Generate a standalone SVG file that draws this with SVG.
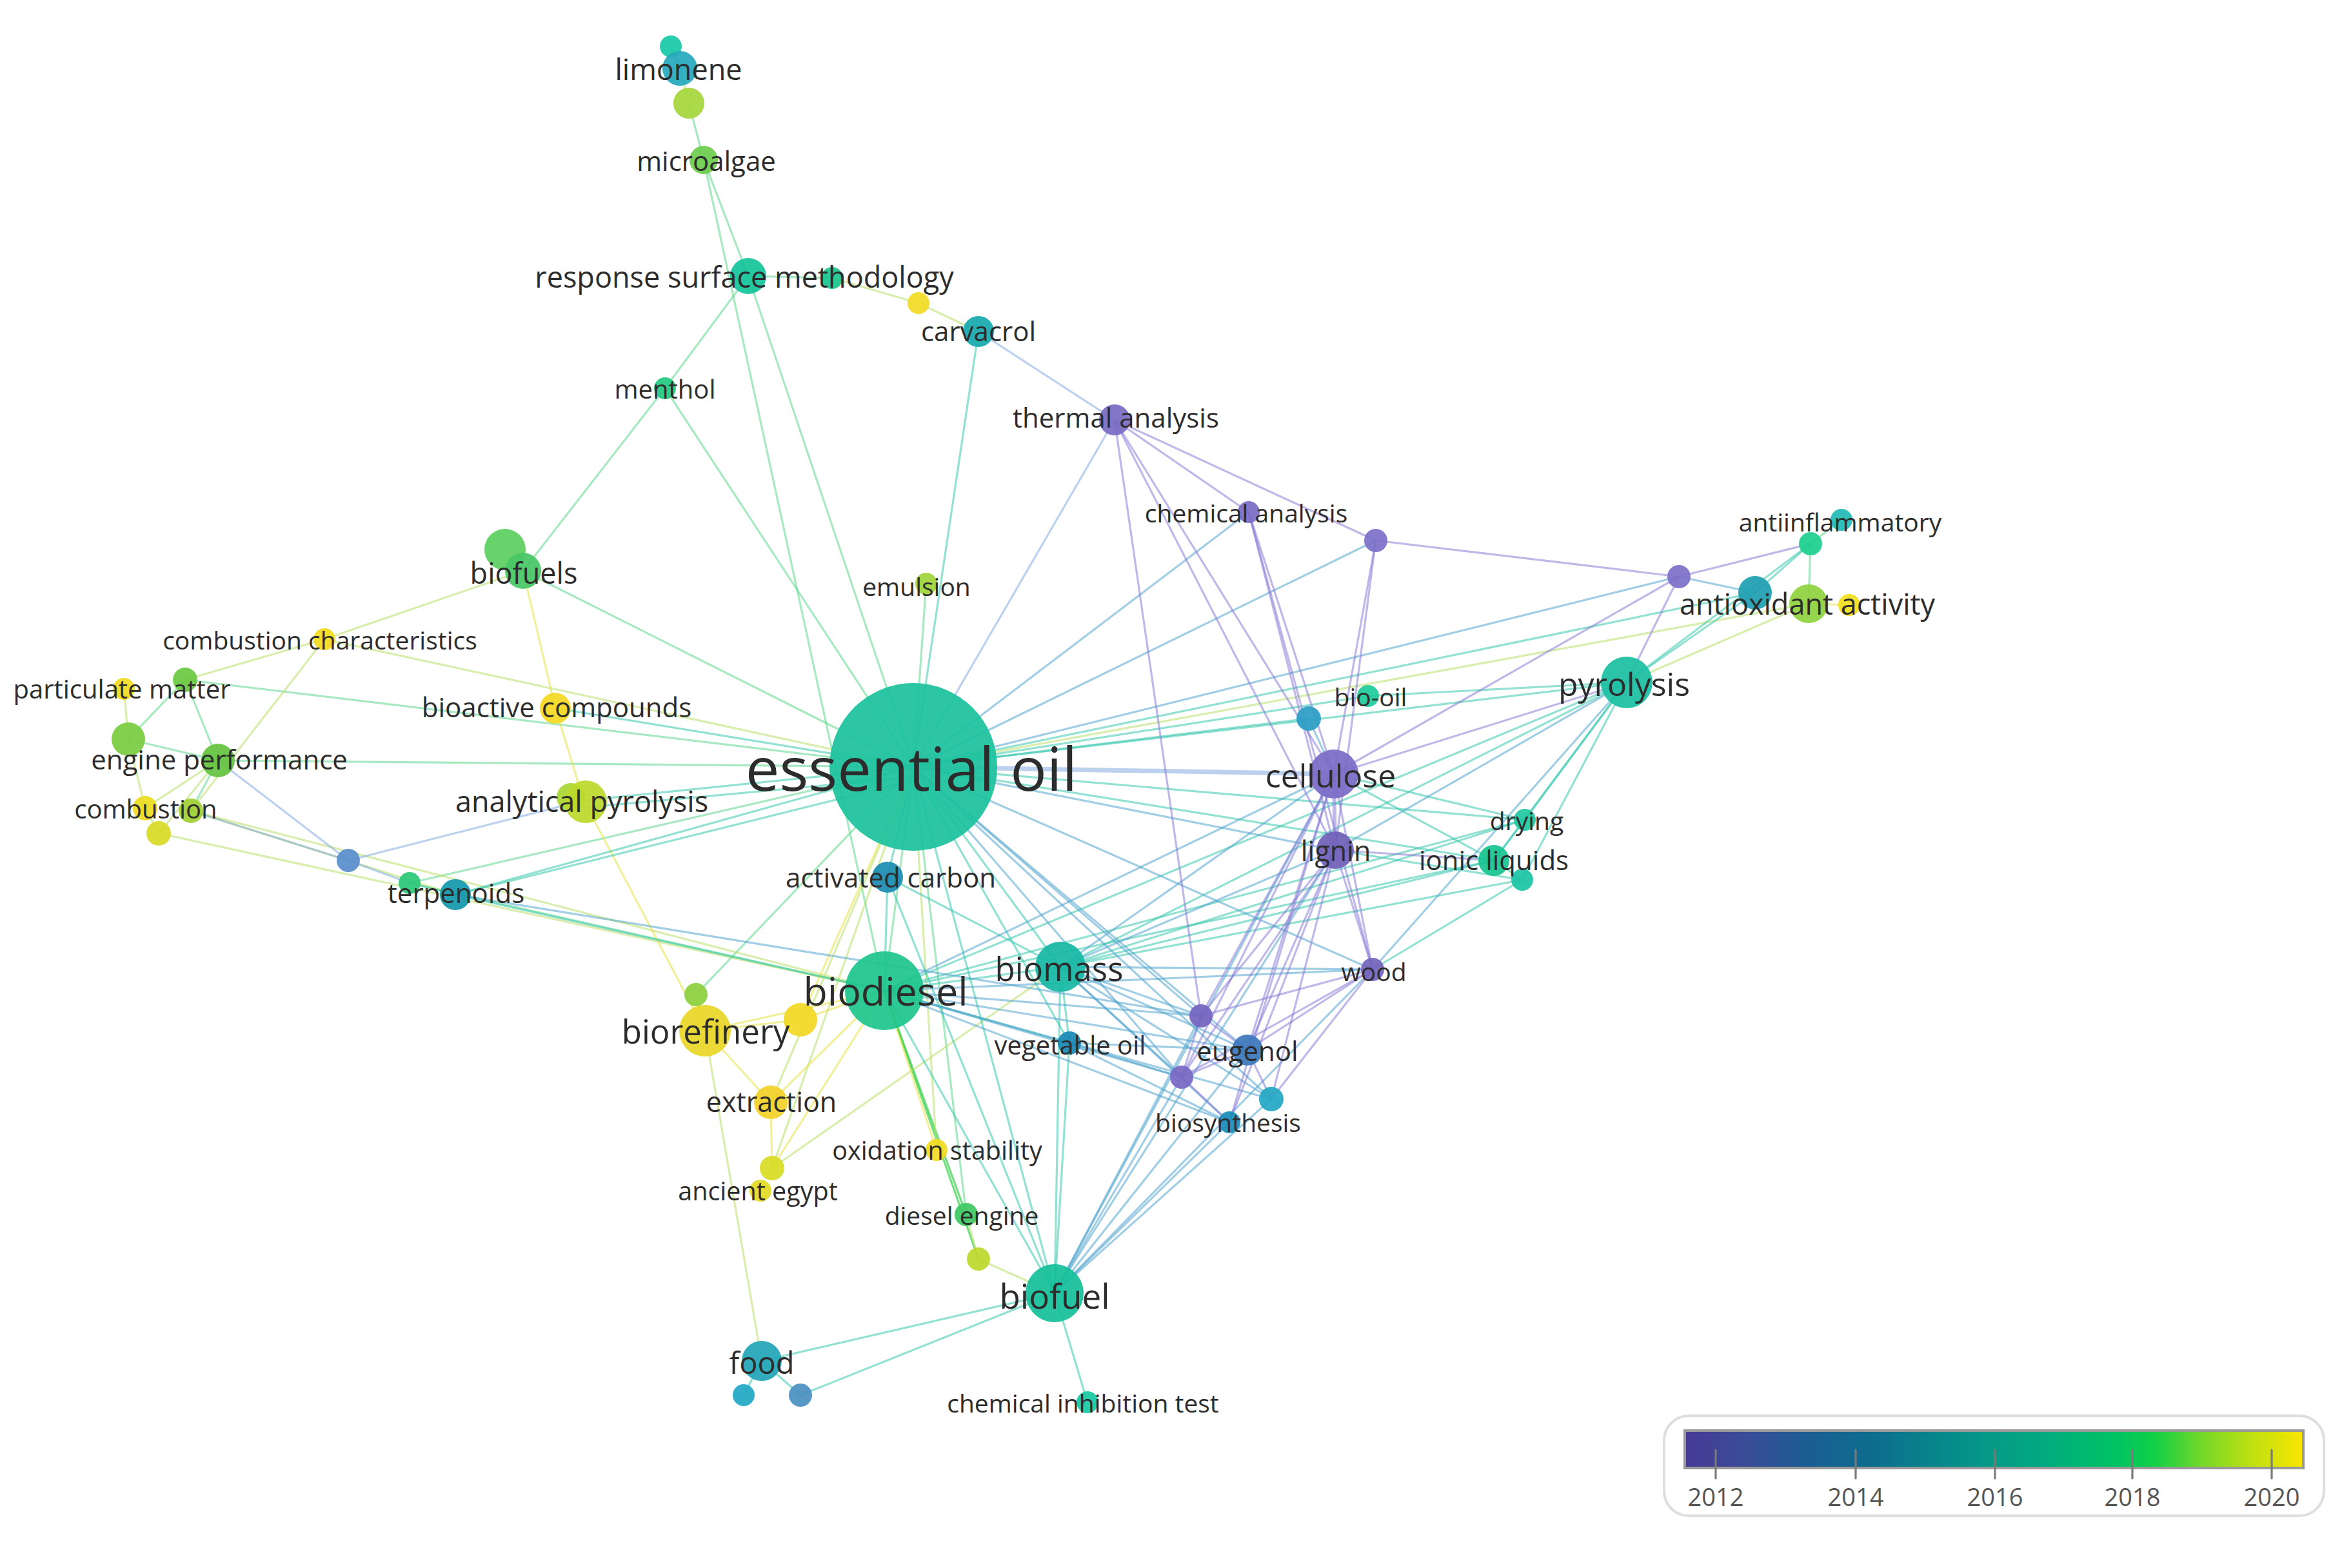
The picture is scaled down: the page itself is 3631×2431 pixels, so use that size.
<svg xmlns="http://www.w3.org/2000/svg" width="3631" height="2431" viewBox="0 0 3631 2431">
<defs>
<linearGradient id="vir" x1="0" y1="0" x2="1" y2="0">
<stop offset="0" stop-color="#473a95"/>
<stop offset="0.1" stop-color="#3a4c98"/>
<stop offset="0.2" stop-color="#1b5e92"/>
<stop offset="0.3" stop-color="#0d6c8e"/>
<stop offset="0.45" stop-color="#06918a"/>
<stop offset="0.58" stop-color="#02aa80"/>
<stop offset="0.7" stop-color="#00c462"/>
<stop offset="0.76" stop-color="#12d046"/>
<stop offset="0.84" stop-color="#78d828"/>
<stop offset="0.92" stop-color="#c2e010"/>
<stop offset="1" stop-color="#fae600"/>
</linearGradient>
</defs>
<style>
line{stroke-width:3.2;stroke-opacity:0.52;stroke-linecap:round}
.p{stroke:#8577d2}
.b{stroke:#4aa2cc}
.t{stroke:#30c6aa}
.g{stroke:#58d48a}
.yg{stroke:#b6de62}
.y{stroke:#e6e040}
.lb{stroke:#7ea6dc}
.bg{stroke:#36d04a;stroke-opacity:0.7}
circle{fill-opacity:0.93}
text{font-family:"Open Sans","DejaVu Sans",sans-serif;fill:#2c2c2c;text-anchor:middle;dominant-baseline:central}
.leg{fill:#555;font-size:38px}
</style>
<rect width="3631" height="2431" fill="#fff"/>
<g id="connectors">
<line class="g" x1="1068" y1="160" x2="1091" y2="248"/>
<line class="g" x1="1091" y1="248" x2="1160" y2="428"/>
<line class="g" x1="1091" y1="248" x2="1371" y2="1536"/>
<line class="g" x1="1160" y1="428" x2="1290" y2="431"/>
<line class="g" x1="1160" y1="428" x2="1031" y2="602"/>
<line class="g" x1="1031" y1="602" x2="811" y2="885"/>
<line class="g" x1="1031" y1="602" x2="1416" y2="1189"/>
<line class="g" x1="1160" y1="428" x2="1416" y2="1189"/>
<line class="g" x1="1436" y1="905" x2="1416" y2="1189"/>
<line class="g" x1="811" y1="885" x2="1416" y2="1189"/>
<line class="g" x1="287" y1="1054" x2="1416" y2="1189"/>
<line class="g" x1="338" y1="1179" x2="1416" y2="1189"/>
<line class="g" x1="287" y1="1054" x2="199" y2="1146"/>
<line class="g" x1="287" y1="1054" x2="338" y2="1179"/>
<line class="g" x1="199" y1="1146" x2="338" y2="1179"/>
<line class="g" x1="338" y1="1179" x2="296" y2="1257"/>
<line class="g" x1="635" y1="1369" x2="1416" y2="1189"/>
<line class="g" x1="635" y1="1369" x2="1371" y2="1536"/>
<line class="g" x1="1079" y1="1542" x2="1416" y2="1189"/>
<line class="bg" x1="1498" y1="1883" x2="1371" y2="1536"/>
<line class="bg" x1="1371" y1="1536" x2="1517" y2="1952"/>
<line class="g" x1="1498" y1="1883" x2="1416" y2="1189"/>
<line class="g" x1="2807" y1="843" x2="2855" y2="806"/>
<line class="g" x1="2807" y1="843" x2="2804" y2="936"/>
<line class="g" x1="1371" y1="1536" x2="1416" y2="1189"/>
<line class="yg" x1="1054" y1="106" x2="1068" y2="160"/>
<line class="yg" x1="1290" y1="431" x2="1424" y2="470"/>
<line class="yg" x1="1424" y1="470" x2="1517" y2="514"/>
<line class="yg" x1="811" y1="885" x2="503" y2="991"/>
<line class="yg" x1="503" y1="991" x2="1416" y2="1189"/>
<line class="yg" x1="503" y1="991" x2="287" y2="1054"/>
<line class="yg" x1="503" y1="991" x2="296" y2="1257"/>
<line class="yg" x1="192" y1="1068" x2="199" y2="1146"/>
<line class="yg" x1="199" y1="1146" x2="225" y2="1253"/>
<line class="yg" x1="338" y1="1179" x2="225" y2="1253"/>
<line class="yg" x1="338" y1="1179" x2="246" y2="1292"/>
<line class="yg" x1="225" y1="1253" x2="246" y2="1292"/>
<line class="yg" x1="296" y1="1257" x2="706" y2="1387"/>
<line class="yg" x1="246" y1="1292" x2="1371" y2="1536"/>
<line class="yg" x1="296" y1="1257" x2="1371" y2="1536"/>
<line class="yg" x1="2804" y1="936" x2="1416" y2="1189"/>
<line class="yg" x1="2804" y1="936" x2="2522" y2="1058"/>
<line class="yg" x1="1197" y1="1811" x2="1644" y2="1499"/>
<line class="yg" x1="1197" y1="1811" x2="1416" y2="1189"/>
<line class="yg" x1="1195" y1="1709" x2="1416" y2="1189"/>
<line class="yg" x1="1452" y1="1783" x2="1416" y2="1189"/>
<line class="yg" x1="1093" y1="1598" x2="1181" y2="2110"/>
<line class="yg" x1="1079" y1="1542" x2="1093" y2="1598"/>
<line class="yg" x1="1517" y1="1952" x2="1635" y2="2005"/>
<line class="yg" x1="1498" y1="1883" x2="1517" y2="1952"/>
<line class="y" x1="811" y1="885" x2="861" y2="1098"/>
<line class="y" x1="861" y1="1098" x2="905" y2="1241"/>
<line class="y" x1="905" y1="1241" x2="1093" y2="1598"/>
<line class="y" x1="1093" y1="1598" x2="1241" y2="1581"/>
<line class="y" x1="1241" y1="1581" x2="1371" y2="1536"/>
<line class="y" x1="1093" y1="1598" x2="1195" y2="1709"/>
<line class="y" x1="1195" y1="1709" x2="1197" y2="1811"/>
<line class="y" x1="1195" y1="1709" x2="1371" y2="1536"/>
<line class="y" x1="1197" y1="1811" x2="1371" y2="1536"/>
<line class="y" x1="1241" y1="1581" x2="1416" y2="1189"/>
<line class="y" x1="1452" y1="1783" x2="1371" y2="1536"/>
<line class="y" x1="1093" y1="1598" x2="1371" y2="1536"/>
<line class="y" x1="2867" y1="938" x2="2804" y2="936"/>
<line class="t" x1="861" y1="1098" x2="1416" y2="1189"/>
<line class="t" x1="905" y1="1241" x2="1416" y2="1189"/>
<line class="t" x1="905" y1="1252" x2="1416" y2="1205"/>
<line class="t" x1="706" y1="1387" x2="1416" y2="1189"/>
<line class="t" x1="706" y1="1387" x2="1416" y2="1210"/>
<line class="t" x1="706" y1="1387" x2="635" y2="1369"/>
<line class="t" x1="1517" y1="514" x2="1416" y2="1189"/>
<line class="t" x1="2721" y1="919" x2="1416" y2="1189"/>
<line class="t" x1="2522" y1="1058" x2="1416" y2="1189"/>
<line class="t" x1="2121" y1="1079" x2="1416" y2="1189"/>
<line class="t" x1="2029" y1="1114" x2="1416" y2="1189"/>
<line class="t" x1="2364" y1="1271" x2="1416" y2="1189"/>
<line class="t" x1="2316" y1="1334" x2="1416" y2="1189"/>
<line class="t" x1="1644" y1="1499" x2="1416" y2="1189"/>
<line class="t" x1="1376" y1="1360" x2="1416" y2="1189"/>
<line class="t" x1="1658" y1="1617" x2="1416" y2="1189"/>
<line class="t" x1="1635" y1="2005" x2="1416" y2="1189"/>
<line class="t" x1="1371" y1="1536" x2="1644" y2="1499"/>
<line class="t" x1="1371" y1="1536" x2="1658" y2="1617"/>
<line class="t" x1="1371" y1="1536" x2="1635" y2="2005"/>
<line class="t" x1="1371" y1="1536" x2="2522" y2="1058"/>
<line class="t" x1="1371" y1="1536" x2="2316" y2="1334"/>
<line class="t" x1="1371" y1="1536" x2="2364" y2="1271"/>
<line class="t" x1="1371" y1="1536" x2="1376" y2="1360"/>
<line class="t" x1="1371" y1="1536" x2="706" y2="1387"/>
<line class="t" x1="1644" y1="1499" x2="1658" y2="1617"/>
<line class="t" x1="1644" y1="1499" x2="1635" y2="2005"/>
<line class="t" x1="1644" y1="1499" x2="2316" y2="1334"/>
<line class="t" x1="1644" y1="1499" x2="2360" y2="1364"/>
<line class="t" x1="1644" y1="1499" x2="2364" y2="1271"/>
<line class="t" x1="1644" y1="1499" x2="2522" y2="1058"/>
<line class="t" x1="1644" y1="1499" x2="1376" y2="1360"/>
<line class="t" x1="1635" y1="2005" x2="1658" y2="1617"/>
<line class="t" x1="1635" y1="2005" x2="1686" y2="2174"/>
<line class="t" x1="1635" y1="2005" x2="1181" y2="2110"/>
<line class="t" x1="1635" y1="2005" x2="1241" y2="2163"/>
<line class="t" x1="1635" y1="2005" x2="1376" y2="1360"/>
<line class="t" x1="2522" y1="1058" x2="2121" y2="1079"/>
<line class="t" x1="2522" y1="1058" x2="2364" y2="1271"/>
<line class="t" x1="2522" y1="1058" x2="2316" y2="1334"/>
<line class="t" x1="2522" y1="1058" x2="2360" y2="1364"/>
<line class="t" x1="2522" y1="1058" x2="2721" y2="919"/>
<line class="t" x1="2522" y1="1058" x2="2807" y2="843"/>
<line class="t" x1="2721" y1="919" x2="2807" y2="843"/>
<line class="t" x1="2068" y1="1200" x2="2364" y2="1271"/>
<line class="t" x1="2068" y1="1200" x2="2316" y2="1334"/>
<line class="t" x1="2316" y1="1334" x2="2360" y2="1364"/>
<line class="t" x1="2364" y1="1271" x2="2316" y2="1334"/>
<line class="t" x1="2128" y1="1503" x2="2360" y2="1364"/>
<line class="t" x1="2070" y1="1318" x2="2360" y2="1364"/>
<line class="t" x1="1181" y1="2110" x2="1153" y2="2163"/>
<line class="t" x1="1181" y1="2110" x2="1241" y2="2163"/>
<line class="t" x1="1040" y1="72" x2="1054" y2="106"/>
<line class="b" x1="2070" y1="1318" x2="1416" y2="1189"/>
<line class="b" x1="2128" y1="1503" x2="1416" y2="1189"/>
<line class="b" x1="1862" y1="1575" x2="1416" y2="1189"/>
<line class="b" x1="1934" y1="1628" x2="1416" y2="1189"/>
<line class="b" x1="1832" y1="1670" x2="1416" y2="1189"/>
<line class="b" x1="1971" y1="1704" x2="1416" y2="1189"/>
<line class="b" x1="1371" y1="1536" x2="2068" y2="1200"/>
<line class="b" x1="1371" y1="1536" x2="2128" y2="1503"/>
<line class="b" x1="1371" y1="1536" x2="1862" y2="1575"/>
<line class="b" x1="1371" y1="1536" x2="1934" y2="1628"/>
<line class="b" x1="1371" y1="1536" x2="1832" y2="1670"/>
<line class="b" x1="1371" y1="1536" x2="1906" y2="1740"/>
<line class="b" x1="1371" y1="1536" x2="1971" y2="1704"/>
<line class="b" x1="1644" y1="1499" x2="2068" y2="1200"/>
<line class="b" x1="1644" y1="1499" x2="2070" y2="1318"/>
<line class="b" x1="1644" y1="1499" x2="2128" y2="1503"/>
<line class="b" x1="1644" y1="1499" x2="1862" y2="1575"/>
<line class="b" x1="1644" y1="1499" x2="1934" y2="1628"/>
<line class="b" x1="1644" y1="1499" x2="1832" y2="1670"/>
<line class="b" x1="1644" y1="1499" x2="1906" y2="1740"/>
<line class="b" x1="1644" y1="1499" x2="1971" y2="1704"/>
<line class="b" x1="1635" y1="2005" x2="2068" y2="1200"/>
<line class="b" x1="1635" y1="2005" x2="2070" y2="1318"/>
<line class="b" x1="1635" y1="2005" x2="1934" y2="1628"/>
<line class="b" x1="1635" y1="2005" x2="1832" y2="1670"/>
<line class="b" x1="1635" y1="2005" x2="1862" y2="1575"/>
<line class="b" x1="1635" y1="2005" x2="2128" y2="1503"/>
<line class="b" x1="1635" y1="2005" x2="1906" y2="1740"/>
<line class="b" x1="1635" y1="2005" x2="1971" y2="1704"/>
<line class="b" x1="706" y1="1387" x2="1862" y2="1575"/>
<line class="b" x1="1658" y1="1617" x2="1934" y2="1628"/>
<line class="b" x1="1658" y1="1617" x2="1832" y2="1670"/>
<line class="b" x1="1658" y1="1617" x2="1906" y2="1740"/>
<line class="b" x1="1936" y1="794" x2="1416" y2="1189"/>
<line class="b" x1="2133" y1="838" x2="1416" y2="1189"/>
<line class="b" x1="2603" y1="894" x2="1416" y2="1189"/>
<line class="b" x1="2029" y1="1114" x2="2068" y2="1200"/>
<line class="b" x1="2721" y1="919" x2="2603" y2="894"/>
<line class="b" x1="2128" y1="1503" x2="2522" y2="1058"/>
<line class="b" x1="2070" y1="1318" x2="2522" y2="1058"/>
<line class="lb" x1="540" y1="1334" x2="905" y2="1241"/>
<line class="lb" x1="540" y1="1334" x2="635" y2="1369"/>
<line class="lb" x1="338" y1="1179" x2="540" y2="1334"/>
<line class="lb" x1="296" y1="1257" x2="540" y2="1334"/>
<line class="lb" x1="1517" y1="514" x2="1728" y2="651"/>
<line class="lb" x1="1728" y1="651" x2="1416" y2="1189"/>
<line class="lb" x1="1416" y1="1189" x2="2068" y2="1200" style="stroke-width:7"/>
<line class="p" x1="1728" y1="651" x2="1936" y2="794"/>
<line class="p" x1="1728" y1="651" x2="2133" y2="838"/>
<line class="p" x1="1728" y1="651" x2="2068" y2="1200"/>
<line class="p" x1="1728" y1="651" x2="2070" y2="1318"/>
<line class="p" x1="1728" y1="651" x2="1862" y2="1575"/>
<line class="p" x1="1936" y1="794" x2="2068" y2="1200"/>
<line class="p" x1="1936" y1="794" x2="2070" y2="1318"/>
<line class="p" x1="1936" y1="794" x2="2128" y2="1503"/>
<line class="p" x1="2133" y1="838" x2="2603" y2="894"/>
<line class="p" x1="2133" y1="838" x2="2068" y2="1200"/>
<line class="p" x1="2133" y1="838" x2="2070" y2="1318"/>
<line class="p" x1="2603" y1="894" x2="2068" y2="1200"/>
<line class="p" x1="2603" y1="894" x2="2522" y2="1058"/>
<line class="p" x1="2603" y1="894" x2="2807" y2="843"/>
<line class="p" x1="2068" y1="1200" x2="2070" y2="1318" style="stroke-width:6"/>
<line class="p" x1="2068" y1="1200" x2="2128" y2="1503"/>
<line class="p" x1="2068" y1="1200" x2="1862" y2="1575"/>
<line class="p" x1="2068" y1="1200" x2="1832" y2="1670"/>
<line class="p" x1="2068" y1="1200" x2="1934" y2="1628"/>
<line class="p" x1="2068" y1="1200" x2="1906" y2="1740"/>
<line class="p" x1="2068" y1="1200" x2="2522" y2="1058"/>
<line class="p" x1="2070" y1="1318" x2="2128" y2="1503"/>
<line class="p" x1="2070" y1="1318" x2="1862" y2="1575"/>
<line class="p" x1="2070" y1="1318" x2="1832" y2="1670"/>
<line class="p" x1="2070" y1="1318" x2="1934" y2="1628"/>
<line class="p" x1="2070" y1="1318" x2="1906" y2="1740"/>
<line class="p" x1="2070" y1="1318" x2="1971" y2="1704"/>
<line class="p" x1="2070" y1="1318" x2="2316" y2="1334"/>
<line class="p" x1="2128" y1="1503" x2="1862" y2="1575"/>
<line class="p" x1="2128" y1="1503" x2="1934" y2="1628"/>
<line class="p" x1="2128" y1="1503" x2="1832" y2="1670"/>
<line class="p" x1="2128" y1="1503" x2="1971" y2="1704"/>
<line class="p" x1="1862" y1="1575" x2="1934" y2="1628"/>
<line class="p" x1="1862" y1="1575" x2="1832" y2="1670"/>
<line class="p" x1="1832" y1="1670" x2="1934" y2="1628"/>
<line class="p" x1="1832" y1="1670" x2="1906" y2="1740"/>
<line class="p" x1="1934" y1="1628" x2="1971" y2="1704"/>
</g>
<g id="nodes">
<g id="n-limonene-a"><circle cx="1040" cy="72" r="17" fill="#19c9a8"/></g>
<g id="n-limonene"><circle cx="1054" cy="106" r="27" fill="#26a9bc"/></g>
<g id="n-limonene-b"><circle cx="1068" cy="160" r="24" fill="#a5d63c"/></g>
<g id="n-microalgae"><circle cx="1091" cy="248" r="22" fill="#6dcc4c"/></g>
<g id="n-rsm"><circle cx="1160" cy="428" r="28" fill="#16c49a"/></g>
<g id="n-rsm-b"><circle cx="1290" cy="431" r="17" fill="#1bc58e"/></g>
<g id="n-y7"><circle cx="1424" cy="470" r="17" fill="#f2dc26"/></g>
<g id="n-carvacrol"><circle cx="1517" cy="514" r="24" fill="#18a9ad"/></g>
<g id="n-menthol"><circle cx="1031" cy="602" r="17" fill="#25c882"/></g>
<g id="n-thermal"><circle cx="1728" cy="651" r="24" fill="#7a6cc2"/></g>
<g id="n-chemical"><circle cx="1936" cy="794" r="17" fill="#7b6cc4"/></g>
<g id="n-p921"><circle cx="2133" cy="838" r="18" fill="#7d70c8"/></g>
<g id="n-p1124"><circle cx="2603" cy="894" r="18" fill="#7d70c8"/></g>
<g id="n-antiinfl-a"><circle cx="2855" cy="806" r="17" fill="#22bab6"/></g>
<g id="n-antiinfl-b"><circle cx="2807" cy="843" r="18" fill="#1dd08e"/></g>
<g id="n-antiox-a"><circle cx="2721" cy="919" r="26" fill="#1e9fb2"/></g>
<g id="n-antiox"><circle cx="2804" cy="936" r="30" fill="#8ed23e"/></g>
<g id="n-antiox-c"><circle cx="2867" cy="938" r="17" fill="#f2e020"/></g>
<g id="n-pyrolysis"><circle cx="2522" cy="1058" r="40" fill="#1cbfa2"/></g>
<g id="n-biofuels-a"><circle cx="783" cy="852" r="32" fill="#5ed060"/></g>
<g id="n-biofuels"><circle cx="811" cy="885" r="28" fill="#48c766"/></g>
<g id="n-emulsion"><circle cx="1436" cy="905" r="17" fill="#9ed43a"/></g>
<g id="n-combchar"><circle cx="503" cy="991" r="17" fill="#f2dc20"/></g>
<g id="n-pm-a"><circle cx="192" cy="1068" r="17" fill="#f0dc22"/></g>
<g id="n-pm"><circle cx="287" cy="1054" r="19" fill="#6cc842"/></g>
<g id="n-bioactive"><circle cx="861" cy="1098" r="24" fill="#f4d822"/></g>
<g id="n-ep-a"><circle cx="199" cy="1146" r="26" fill="#7acc42"/></g>
<g id="n-ep"><circle cx="338" cy="1179" r="26" fill="#64c440"/></g>
<g id="n-comb-a"><circle cx="225" cy="1253" r="19" fill="#eedc22"/></g>
<g id="n-comb"><circle cx="296" cy="1257" r="19" fill="#9ed034"/></g>
<g id="n-comb-c"><circle cx="246" cy="1292" r="19" fill="#d6da26"/></g>
<g id="n-b233"><circle cx="540" cy="1334" r="18" fill="#5a8ecc"/></g>
<g id="n-g274"><circle cx="635" cy="1369" r="17" fill="#2cc878"/></g>
<g id="n-terpenoids"><circle cx="706" cy="1387" r="24" fill="#1498ac"/></g>
<g id="n-anpyr"><circle cx="885" cy="1236" r="22" fill="#a8d634"/><circle cx="908" cy="1243" r="33" fill="#bcd82c"/></g>
<g id="n-essential-oil"><circle cx="1416" cy="1189" r="130" fill="#1cc29e"/></g>
<g id="n-biooil"><circle cx="2121" cy="1079" r="17" fill="#1fcb9c"/></g>
<g id="n-biooil-b"><circle cx="2029" cy="1114" r="19" fill="#2b9ec4"/></g>
<g id="n-cellulose"><circle cx="2068" cy="1200" r="38" fill="#7b6cc6"/></g>
<g id="n-drying"><circle cx="2364" cy="1271" r="17" fill="#22c8a0"/></g>
<g id="n-lignin"><circle cx="2070" cy="1318" r="29" fill="#7060b8"/></g>
<g id="n-ionic"><circle cx="2316" cy="1334" r="24" fill="#18c490"/></g>
<g id="n-ionic-b"><circle cx="2360" cy="1364" r="17" fill="#1bc4a6"/></g>
<g id="n-actcarbon"><circle cx="1376" cy="1360" r="24" fill="#1b8cb2"/></g>
<g id="n-wood"><circle cx="2128" cy="1503" r="18" fill="#7464bc"/></g>
<g id="n-biomass"><circle cx="1644" cy="1499" r="39" fill="#18b8a4"/></g>
<g id="n-biodiesel"><circle cx="1371" cy="1536" r="61" fill="#1ec58c"/></g>
<g id="n-biorefinery"><circle cx="1093" cy="1598" r="40" fill="#ead628"/></g>
<g id="n-biorefinery-b"><circle cx="1079" cy="1542" r="18" fill="#8ed040"/></g>
<g id="n-biorefinery-c"><circle cx="1241" cy="1581" r="26" fill="#f2d824"/></g>
<g id="n-p804"><circle cx="1862" cy="1575" r="18" fill="#7464c0"/></g>
<g id="n-eugenol"><circle cx="1934" cy="1628" r="24" fill="#3c78ba"/></g>
<g id="n-vegoil"><circle cx="1658" cy="1617" r="18" fill="#1a88b4"/></g>
<g id="n-p791"><circle cx="1832" cy="1670" r="18" fill="#7868c4"/></g>
<g id="n-biosynthesis"><circle cx="1906" cy="1740" r="17" fill="#1a8cb8"/></g>
<g id="n-biosynthesis-b"><circle cx="1971" cy="1704" r="19" fill="#24a8c4"/></g>
<g id="n-extraction"><circle cx="1195" cy="1709" r="26" fill="#f2d22a"/></g>
<g id="n-oxstab"><circle cx="1452" cy="1783" r="17" fill="#f2dc22"/></g>
<g id="n-ae-a"><circle cx="1197" cy="1811" r="19" fill="#d8dc24"/></g>
<g id="n-ancient-egypt"><circle cx="1179" cy="1846" r="17" fill="#e2da26"/></g>
<g id="n-diesel-engine"><circle cx="1498" cy="1883" r="18" fill="#40c864"/></g>
<g id="n-yg"><circle cx="1517" cy="1952" r="18" fill="#bcd82c"/></g>
<g id="n-biofuel"><circle cx="1635" cy="2005" r="45" fill="#16c09a"/></g>
<g id="n-food"><circle cx="1181" cy="2110" r="31" fill="#22a6b8"/></g>
<g id="n-food-a"><circle cx="1153" cy="2163" r="17" fill="#22a8c4"/></g>
<g id="n-food-b"><circle cx="1241" cy="2163" r="18" fill="#4a90c2"/></g>
<g id="n-cit"><circle cx="1686" cy="2174" r="17" fill="#18c8a2"/></g>
</g>
<g id="labels">
<text x="1052" y="106" font-size="45">limonene</text>
<text x="1095" y="248" font-size="42">microalgae</text>
<text x="1154" y="428" font-size="45">response surface methodology</text>
<text x="1517" y="512" font-size="42">carvacrol</text>
<text x="1031" y="602" font-size="40">menthol</text>
<text x="1730" y="646" font-size="42">thermal analysis</text>
<text x="1932" y="794" font-size="39">chemical analysis</text>
<text x="2853" y="808" font-size="39">antiinflammatory</text>
<text x="2802" y="935" font-size="45">antioxidant activity</text>
<text x="2518" y="1060" font-size="50">pyrolysis</text>
<text x="812" y="887" font-size="45">biofuels</text>
<text x="1421" y="908" font-size="39">emulsion</text>
<text x="496" y="991" font-size="39">combustion characteristics</text>
<text x="189" y="1067" font-size="40">particulate matter</text>
<text x="863" y="1095" font-size="42">bioactive compounds</text>
<text x="2125" y="1079" font-size="39">bio-oil</text>
<text x="340" y="1176" font-size="42">engine performance</text>
<text x="1413" y="1190" font-size="94">essential oil</text>
<text x="2063" y="1202" font-size="50">cellulose</text>
<text x="902" y="1241" font-size="45">analytical pyrolysis</text>
<text x="226" y="1253" font-size="40">combustion</text>
<text x="2367" y="1271" font-size="39">drying</text>
<text x="2071" y="1318" font-size="43">lignin</text>
<text x="2316" y="1332" font-size="42">ionic liquids</text>
<text x="1381" y="1359" font-size="42">activated carbon</text>
<text x="707" y="1383" font-size="42">terpenoids</text>
<text x="1642" y="1501" font-size="51">biomass</text>
<text x="2130" y="1505" font-size="39">wood</text>
<text x="1373" y="1535" font-size="61">biodiesel</text>
<text x="1094" y="1598" font-size="51">biorefinery</text>
<text x="1659" y="1619" font-size="40">vegetable oil</text>
<text x="1934" y="1628" font-size="42">eugenol</text>
<text x="1196" y="1707" font-size="43">extraction</text>
<text x="1904" y="1739" font-size="39">biosynthesis</text>
<text x="1453" y="1783" font-size="39.5">oxidation stability</text>
<text x="1175" y="1846" font-size="39.5">ancient egypt</text>
<text x="1491" y="1883" font-size="39">diesel engine</text>
<text x="1635" y="2008" font-size="53">biofuel</text>
<text x="1181" y="2112" font-size="47">food</text>
<text x="1679" y="2174" font-size="39">chemical inhibition test</text>
</g>
<g id="legend">
<rect x="2580" y="2195" width="1023" height="155" rx="38" fill="#fff" stroke="#dedede" stroke-width="4"/>
<rect x="2612" y="2218" width="959" height="58" fill="url(#vir)" stroke="#9a9a9a" stroke-width="4"/>
<g stroke="#7a7a7a" stroke-width="3">
<line x1="2660" y1="2248" x2="2660" y2="2292" style="stroke-opacity:1"/>
<line x1="2877" y1="2248" x2="2877" y2="2292" style="stroke-opacity:1"/>
<line x1="3093" y1="2248" x2="3093" y2="2292" style="stroke-opacity:1"/>
<line x1="3306" y1="2248" x2="3306" y2="2292" style="stroke-opacity:1"/>
<line x1="3522" y1="2248" x2="3522" y2="2292" style="stroke-opacity:1"/>
</g>
<text class="leg" x="2660" y="2320">2012</text>
<text class="leg" x="2877" y="2320">2014</text>
<text class="leg" x="3093" y="2320">2016</text>
<text class="leg" x="3306" y="2320">2018</text>
<text class="leg" x="3522" y="2320">2020</text>
</g>
</svg>
